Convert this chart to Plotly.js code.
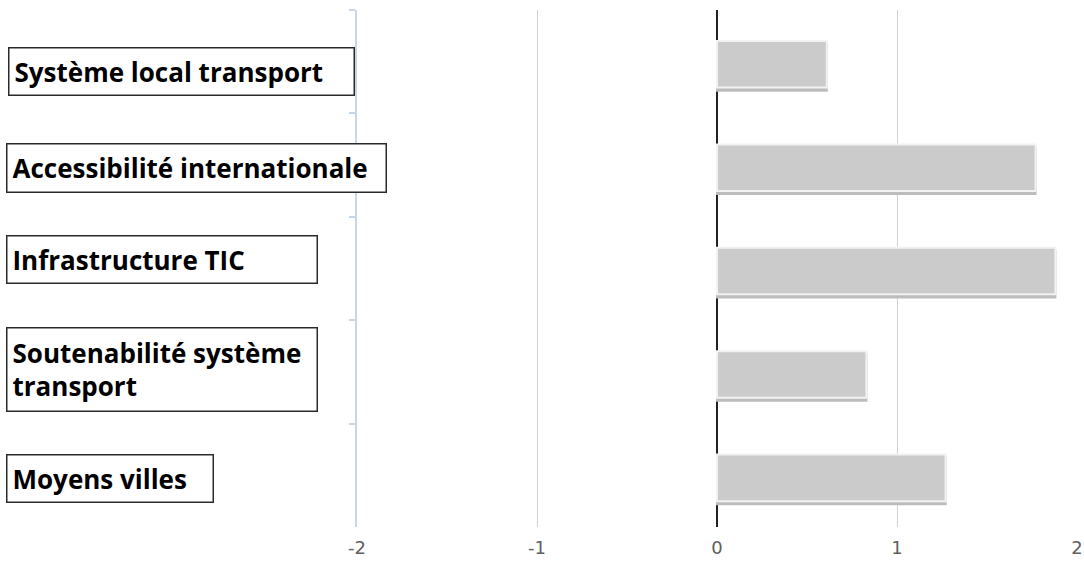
<!DOCTYPE html>
<html>
<head>
<meta charset="utf-8">
<script src="https://cdn.plot.ly/plotly-3.0.1.min.js"></script>
<style>html,body{margin:0;padding:0;background:#fff}#chart{width:1084px;height:565px}</style>
</head>
<body>
<div id="chart"></div>
<script>
const categories = ["Système local transport", "Accessibilité internationale", "Infrastructure TIC", "Soutenabilité système transport", "Moyens villes"];
const labelTexts = ["Système local transport", "Accessibilité internationale", "Infrastructure TIC", "Soutenabilité système<br>transport", "Moyens villes"];
const values = [0.61, 1.77, 1.88, 0.83, 1.27];
const tickVals = [-2, -1, 0, 1, 2];
const tickText = ["-2", "-1", "0", "1", "2"];

// label box geometry (paper coords)
const boxX = [-0.4847, -0.4875, -0.4875, -0.4875, -0.4875];
const boxY = [0.882, 0.695, 0.518, 0.304, 0.093];
const boxW = [334, 368, 299, 299, 195];
const boxH = [36, 37, 36, 72, 36];

const annotations = labelTexts.map((t, i) => ({
  text: "<b>" + t + "</b>",
  xref: "paper", yref: "paper",
  x: boxX[i], y: boxY[i],
  xanchor: "left", yanchor: "middle",
  align: "left", valign: "middle",
  showarrow: false,
  width: boxW[i], height: boxH[i],
  bordercolor: "#2a2a2a", borderwidth: 1.5, borderpad: 5,
  bgcolor: "#ffffff",
  font: {family: "Open Sans, Noto Sans, sans-serif", size: 26, color: "#000000"}
}));

const shadow = {
  type: "bar", orientation: "h",
  y: categories, x: values,
  width: 0.45, offset: -0.17,
  marker: {color: "#bcbcbc", line: {color: "#bcbcbc", width: 2}},
  hoverinfo: "none"
};
const trace = {
  type: "bar", orientation: "h",
  y: categories, x: values,
  width: 0.45, offset: -0.2,
  marker: {color: "#cbcbcb", line: {color: "#f2f2f2", width: 2}},
  hoverinfo: "none"
};

const layout = {
  width: 1084, height: 565,
  margin: {l: 357, r: 7, t: 10, b: 38},
  paper_bgcolor: "#ffffff", plot_bgcolor: "#ffffff",
  showlegend: false,
  barmode: "overlay",
  xaxis: {
    range: [-2, 2],
    tickvals: tickVals, ticktext: tickText,
    showgrid: true, gridcolor: "#d0d0d0", gridwidth: 1,
    zeroline: true, zerolinecolor: "#222222", zerolinewidth: 2,
    showline: false,
    ticks: "", ticklabelstandoff: 8,
    tickfont: {family: "DejaVu Sans, sans-serif", size: 18, color: "#606060"},
    fixedrange: true
  },
  yaxis: {
    type: "category",
    categoryorder: "array", categoryarray: categories,
    autorange: "reversed",
    showticklabels: false,
    showgrid: false, zeroline: false,
    showline: true, linecolor: "#c6d6e8", linewidth: 2,
    ticks: "outside", tickson: "boundaries", ticklen: 6, tickcolor: "#c6d6e8", tickwidth: 2,
    fixedrange: true
  },
  annotations: annotations
};

Plotly.newPlot("chart", [shadow, trace], layout, {staticPlot: true, displayModeBar: false});
</script>
</body>
</html>
